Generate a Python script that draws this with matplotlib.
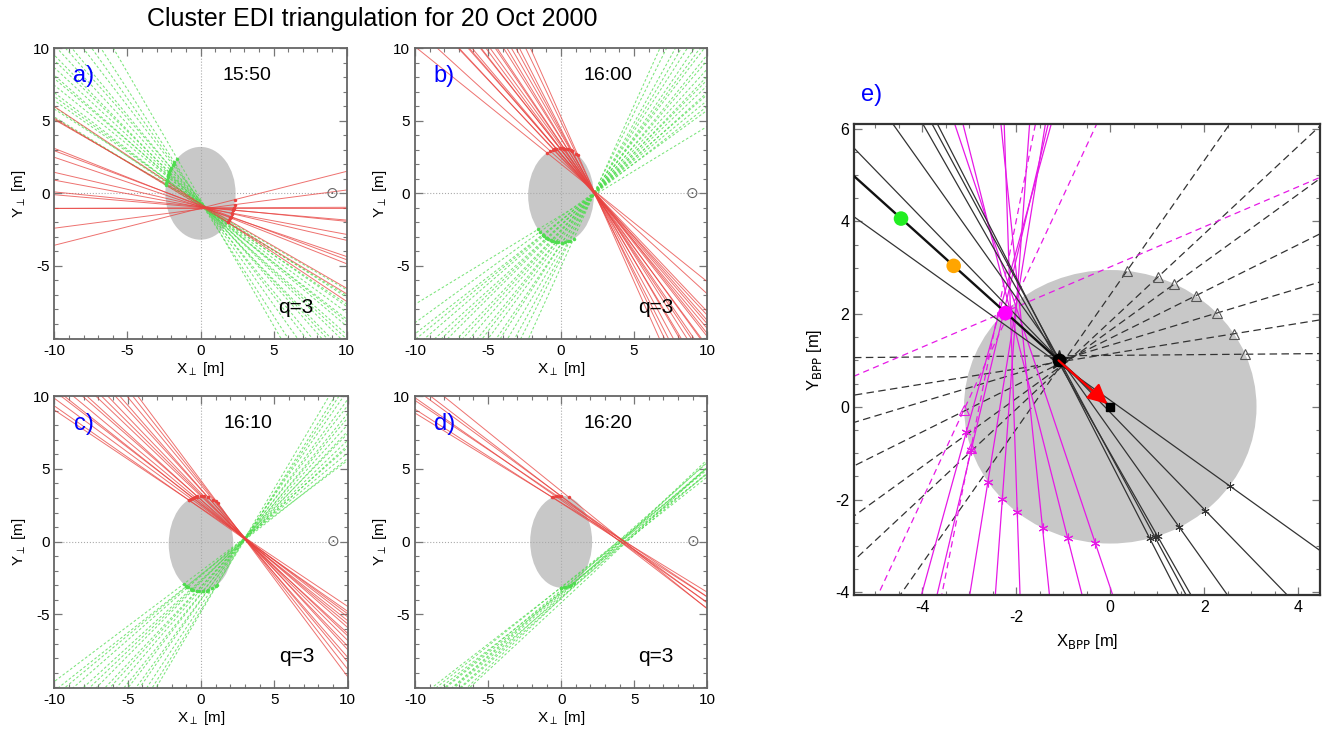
#!/usr/bin/env python3
"""
Cluster EDI triangulation, 20 Oct 2000.
Panels a-d: beam lines of the two guns (red solid / green dashed) in the
plane perpendicular to B. Panel e: BPP view with drift step and arrow.
"""

import numpy as np
import matplotlib
matplotlib.use('Agg')
import matplotlib.pyplot as plt
from matplotlib.patches import Ellipse
from matplotlib.ticker import MultipleLocator

plt.rcParams['font.family'] = ['Liberation Sans', 'DejaVu Sans']
plt.rcParams['axes.unicode_minus'] = False

# ---- panels a-d ----
panel_tags = ['a)', 'b)', 'c)', 'd)']
panel_times = ['15:50', '16:00', '16:10', '16:20']
panel_q = ['q=3', 'q=3', 'q=3', 'q=3']
panel_target = [(0.3, -1.0), (2.3, 0.0), (3.0, 0.2), (4.2, 0.0)]
# spacecraft outline: centre x, centre y, semi-axis x, semi-axis y
panel_sc = [(0.0, 0.0, 2.4, 3.2), (0.0, -0.15, 2.25, 3.25),
            (0.0, -0.15, 2.2, 3.27), (0.0, 0.0, 2.12, 3.16)]
red_gun_side = [0, 90, 90, 90]
green_gun_side = [180, -90, -90, -90]

# beam firing angles (deg) and miss distance from target (m)
red_ang = [
    [-33.9, -31.2, -30.2, -21.7, -20.6, -18.9, -13.2, -10.6, -5.8, -5.0, 0.2, 0.0, 7.5, 14.3],
    [-46.8, -47.3, -48.9, -49.4, -50.2, -51.7, -52.1, -53.6, -54.3, -55.8, -56.4, -57.9,
     -59.2, -60.1, -61.7, -63.0, -64.6, -66.2, -42.5, -39.0],
    [-34.0, -35.2, -36.5, -37.8, -38.6, -39.9, -41.3, -42.5, -43.8, -45.0, -46.4, -47.7,
     -49.1, -50.5, -52.0, -53.4],
    [-31.6, -32.8, -34.0, -35.1, -36.3, -37.6, -39.0],
]
red_off = [
    [0.05, -0.05, 0.08, 0.00, 0.06, -0.04, 0.03, -0.02, 0.05, 0.00, 0.00, 0.02, -0.05, 0.04],
    [0.04, -0.03, 0.05, 0.00, -0.04, 0.06, 0.02, -0.05, 0.03, 0.00, -0.02, 0.04,
     -0.03, 0.05, 0.00, -0.04, 0.03, 0.02, 0.10, 0.12],
    [0.06, -0.04, 0.02, 0.05, -0.03, 0.00, 0.04, -0.06, 0.03, 0.01, -0.02, 0.05,
     -0.04, 0.02, 0.00, -0.03],
    [0.08, -0.05, 0.10, -0.08, 0.04, -0.10, 0.06],
]
green_ang = [
    [-30.5, -31.6, -33.0, -34.2, -35.4, -36.7, -38.0, -39.2, -40.5, -41.8, -43.1, -44.4,
     -45.9, -47.3, -48.8, -50.6, -52.7, -54.9, -57.4, -60.2],
    [36.2, 38.1, 39.5, 41.0, 42.3, 43.8, 45.1, 46.6, 48.0, 49.7, 51.2, 52.8, 54.1,
     55.9, 57.4, 59.3, 61.2, 63.5, 65.8, 31.5],
    [37.2, 38.6, 39.9, 41.4, 42.7, 44.0, 45.5, 46.8, 48.1, 49.6, 51.0, 52.3, 53.9,
     55.2, 56.8, 58.1, 59.5],
    [37.9, 38.4, 38.9, 39.5, 40.0, 40.4, 41.0, 41.5, 41.9, 42.5, 43.0, 43.6],
]
green_off = [
    [0.05, -0.06, 0.10, -0.04, 0.07, 0.00, -0.08, 0.04, 0.09, -0.05, 0.02, 0.06,
     -0.07, 0.03, 0.08, -0.04, 0.05, 0.00, -0.06, 0.04],
    [0.06, -0.04, 0.03, 0.07, -0.05, 0.02, 0.05, -0.06, 0.00, 0.04, -0.03, 0.06,
     0.02, -0.05, 0.04, 0.00, -0.03, 0.05, 0.02, -0.10],
    [0.05, -0.06, 0.03, 0.07, -0.04, 0.00, 0.06, -0.05, 0.02, 0.04, -0.03, 0.05,
     -0.02, 0.06, 0.00, -0.04, 0.03],
    [0.10, -0.12, 0.20, -0.05, 0.15, -0.18, 0.05, 0.22, -0.10, 0.12, -0.20, 0.08],
]

# ---- panel e (BPP) ----
e_sc = (0.0, 0.0, 3.11, 2.95)
e_black_target = (-1.1, 1.0)
e_black_ang = [-63.2, -62.0, -60.7, -55.0, -46.3, -36.0]
e_black_off = [0.00, 0.02, -0.02, 0.04, 0.02, -0.05]
e_dash_target = (-1.0, 0.95)
e_dash_ang = [0.5, 9.3, 17.0, 26.8, 36.3, 43.4, 55.4]
e_dash_off = [0.15, 0.03, 0.07, 0.02, -0.03, -0.04, 0.01]
e_mag_target = (-2.1, 2.0)
e_mag_ang = [108.3, 104.0, 95.8, 91.9, 85.9, 81.0, 76.9, 74.8]
e_mag_off = [-0.14, 0.01, -0.19, 0.02, -0.09, -0.07, 0.17, 0.26]
e_magdash_ang = [65.4, 78.9, 23.4]
e_magdash_off = [0.06, 0.29, 0.10]
e_drift_origin = (0.0, 0.0)
e_drift_ang = 137.6
e_dot_x = [-4.45, -3.33, -2.23]
e_dot_y = [4.06, 3.04, 2.02]
e_dot_col = ['#22ee22', '#ffa500', '#ff00ff']
e_center = (-1.1, 1.0)
e_arrow_tip = (-0.06, 0.06)

RED = '#e8423f'
GREEN = '#4fdc4f'
MAG = '#e619e6'


def beam_line(target, ang, off, length=40.0):
    """Endpoints and base point of a beam line through target+offset."""
    th = np.deg2rad(ang)
    d = np.array([np.cos(th), np.sin(th)])
    n = np.array([-np.sin(th), np.cos(th)])
    p = np.array(target) + off * n
    return p, d, np.vstack([p - length * d, p + length * d])


def gun_point(p, d, sc, side):
    """Where the beam crosses the spacecraft outline on the gun side."""
    cx, cy, a, b = sc
    px, py = p[0] - cx, p[1] - cy
    A = (d[0] / a) ** 2 + (d[1] / b) ** 2
    B = 2 * (px * d[0] / a ** 2 + py * d[1] / b ** 2)
    C = (px / a) ** 2 + (py / b) ** 2 - 1
    disc = B * B - 4 * A * C
    if disc < 0:
        return None
    s = np.array([np.cos(np.deg2rad(side)), np.sin(np.deg2rad(side))])
    best = None
    for t in ((-B - np.sqrt(disc)) / (2 * A), (-B + np.sqrt(disc)) / (2 * A)):
        q = p + t * d
        score = np.dot(q - np.array([cx, cy]), s)
        if best is None or score > best[0]:
            best = (score, q)
    return best[1]


def style_frame(ax, minor, fs):
    ax.xaxis.set_minor_locator(MultipleLocator(minor))
    ax.yaxis.set_minor_locator(MultipleLocator(minor))
    ax.tick_params(which='both', direction='in', top=True, right=True,
                   color='#777777', labelsize=fs)
    ax.tick_params(which='major', length=6, width=0.9)
    ax.tick_params(which='minor', length=3, width=0.8)
    for sp in ax.spines.values():
        sp.set_color('#666666')
        sp.set_linewidth(1.3)


fig = plt.figure(figsize=(13.23, 7.34), dpi=100)

W, H = 1323.0, 734.0
panel_boxes = [(54.3, 48.3, 346.7, 339.3), (415.0, 48.3, 707.0, 339.3),
               (54.3, 396.0, 347.7, 688.3), (415.0, 396.0, 707.3, 688.3)]

for i in range(4):
    l, t, r, b = panel_boxes[i]
    ax = fig.add_axes([l / W, 1 - b / H, (r - l) / W, (b - t) / H])
    cx, cy, sa, sb = panel_sc[i]
    ax.add_patch(Ellipse((cx, cy), 2 * sa, 2 * sb, facecolor='#c8c8c8',
                         edgecolor='none', zorder=0))
    ax.axhline(0, color='#aaaaaa', ls=':', lw=0.8, zorder=1)
    ax.axvline(0, color='#aaaaaa', ls=':', lw=0.8, zorder=1)

    for ang, off in zip(green_ang[i], green_off[i]):
        p, d, seg = beam_line(panel_target[i], ang, off)
        ax.plot(seg[:, 0], seg[:, 1], color=GREEN, lw=0.75, dashes=(2.5, 2),
                alpha=0.75, zorder=2)
        g = gun_point(p, d, panel_sc[i], green_gun_side[i])
        if g is not None:
            ax.plot(g[0], g[1], 'o', color=GREEN, ms=2.5, mew=0, zorder=3)
    for ang, off in zip(red_ang[i], red_off[i]):
        p, d, seg = beam_line(panel_target[i], ang, off)
        ax.plot(seg[:, 0], seg[:, 1], color=RED, lw=0.7, alpha=0.75, zorder=2)
        g = gun_point(p, d, panel_sc[i], red_gun_side[i])
        if g is not None:
            ax.plot(g[0], g[1], 'o', color=RED, ms=2.5, mew=0, zorder=3)

    ax.text(9, 0, '\u2299', family='DejaVu Sans', fontsize=11, color='#666666',
            ha='center', va='center')
    ax.text(-8.0, 8.1, panel_tags[i], color='#0000ff', fontsize=17,
            ha='center', va='center')
    ax.text(3.2, 8.1, panel_times[i], fontsize=14, ha='center', va='center')
    ax.text(6.5, -7.9, panel_q[i], fontsize=15, ha='center', va='center')

    ax.set_xlim(-10, 10)
    ax.set_ylim(-10.07, 10)
    ax.set_xticks([-10, -5, 0, 5, 10])
    ax.set_yticks([-5, 0, 5, 10])
    style_frame(ax, 1, 11)
    ax.set_xlabel(r'X$_\perp$ [m]', fontsize=11, labelpad=1)
    ax.set_ylabel(r'Y$_\perp$ [m]', fontsize=11, labelpad=3)

# ---- panel e ----
axe = fig.add_axes([854 / W, 1 - 595 / H, 466 / W, 471 / H])
cx, cy, sa, sb = e_sc
axe.add_patch(Ellipse((cx, cy), 2 * sa, 2 * sb, facecolor='#c8c8c8',
                      edgecolor='none', zorder=0))

for ang, off in zip(e_dash_ang, e_dash_off):
    p, d, seg = beam_line(e_dash_target, ang, off)
    axe.plot(seg[:, 0], seg[:, 1], color='#333333', lw=0.9, dashes=(6, 3.5), zorder=2)
    g = gun_point(p, d, e_sc, 45)
    if g is not None:
        axe.plot(g[0], g[1], '^', mfc='none', mec='#555555', ms=7, mew=0.8, zorder=3)

for ang, off in zip(e_magdash_ang, e_magdash_off):
    p, d, seg = beam_line(e_mag_target, ang, off)
    axe.plot(seg[:, 0], seg[:, 1], color=MAG, lw=0.9, dashes=(5, 3.5), zorder=2)
    g = gun_point(p, d, e_sc, -135)
    if g is not None:
        axe.plot(g[0], g[1], '^', mfc='none', mec=MAG, ms=7, mew=0.8, zorder=3)

for ang, off in zip(e_mag_ang, e_mag_off):
    p, d, seg = beam_line(e_mag_target, ang, off)
    axe.plot(seg[:, 0], seg[:, 1], color=MAG, lw=0.9, zorder=2)
    g = gun_point(p, d, e_sc, -90)
    if g is not None:
        axe.plot(g[0], g[1], marker=(6, 2, 0), color=MAG, ms=7, mew=0.8, zorder=3)

for ang, off in zip(e_black_ang, e_black_off):
    p, d, seg = beam_line(e_black_target, ang, off)
    axe.plot(seg[:, 0], seg[:, 1], color='#333333', lw=0.9, zorder=2)
    g = gun_point(p, d, e_sc, -45)
    if g is not None:
        axe.plot(g[0], g[1], marker=(6, 2, 0), color='#333333', ms=6, mew=0.7, zorder=3)

# drift line from the square back through the dots
th = np.deg2rad(e_drift_ang)
axe.plot([e_drift_origin[0], e_drift_origin[0] + 12 * np.cos(th)],
         [e_drift_origin[1], e_drift_origin[1] + 12 * np.sin(th)],
         color='#111111', lw=1.7, zorder=3)
axe.scatter(e_dot_x, e_dot_y, s=110, c=e_dot_col, edgecolors='none', zorder=5)
axe.plot(e_center[0], e_center[1], marker='*', color='#222222', ms=14, zorder=4)
axe.plot(e_center[0], e_center[1], 'o', color='black', ms=9, zorder=5)
axe.plot(e_drift_origin[0], e_drift_origin[1], 's', color='black', ms=6, zorder=5)
axe.annotate('', xy=e_arrow_tip, xytext=e_center,
             arrowprops=dict(arrowstyle='-|>', color='red', lw=1.6,
                             mutation_scale=30, shrinkA=0, shrinkB=0),
             zorder=6)

axe.set_xlim(-5.45, 4.46)
axe.set_ylim(-4.06, 6.1)
axe.set_xticks([-4, -2, 0, 2, 4])
axe.set_yticks([-4, -2, 0, 2, 4, 6])
style_frame(axe, 0.5, 11.5)
for sp in axe.spines.values():
    sp.set_color('#333333')
    sp.set_linewidth(1.6)
for tk, v in zip(axe.xaxis.get_major_ticks(), [-4, -2, 0, 2, 4]):
    if v == -2:
        tk.set_pad(11)
axe.set_xlabel(r'X$_{\mathrm{BPP}}$ [m]', fontsize=12, labelpad=5)
axe.set_ylabel(r'Y$_{\mathrm{BPP}}$ [m]', fontsize=12, labelpad=8)

fig.text(872 / W, 1 - 95 / H, 'e)', color='#0000ff', fontsize=17,
         ha='center', va='center')
fig.text(372 / W, 1 - 19 / H, 'Cluster EDI triangulation for 20 Oct 2000',
         fontsize=18, ha='center', va='center')

fig.savefig('out.png', dpi=100)
plt.close(fig)
